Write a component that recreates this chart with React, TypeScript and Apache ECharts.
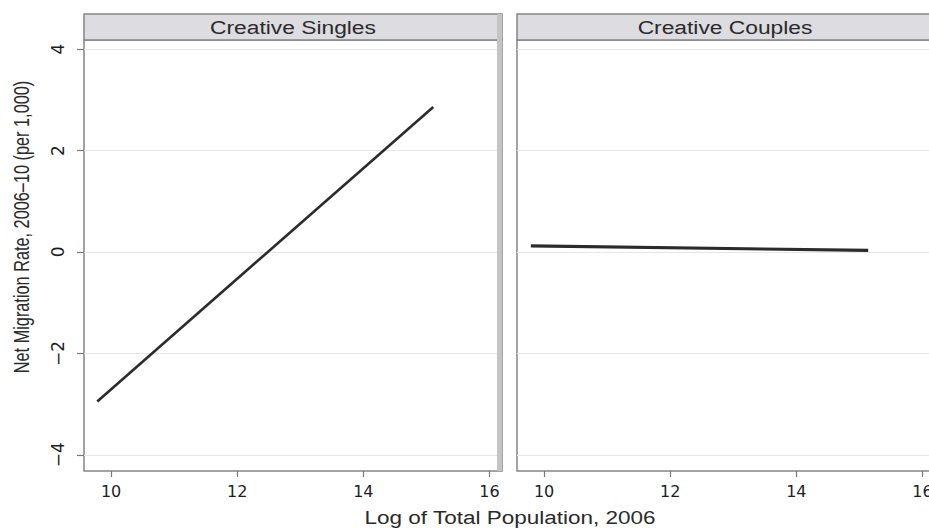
import React, { useEffect, useRef } from "react";
import * as echarts from "echarts";

const panelTitles = ["Creative Singles", "Creative Couples"];
const xTicks = [10, 12, 14, 16];
const yTicks = [-4, -2, 0, 2, 4];
const singlesLine = [
  [9.78, -2.95],
  [15.11, 2.86],
];
const couplesLine = [
  [9.79, 0.12],
  [15.14, 0.03],
];
const xTitle = "Log of Total Population, 2006";
const yTitle = "Net Migration Rate, 2006\u201310 (per 1,000)";

const X_MIN = 9.57;
const X_MAX = 16.2;
const Y_MIN = -4.32;
const Y_MAX = 4.18;

const fmtY = (v: number) => (v < 0 ? "\u2212" + Math.abs(v) : String(v));

export default function App() {
  const ref = useRef<HTMLDivElement>(null);
  useEffect(() => {
    if (!ref.current) return;
    const chart = echarts.init(ref.current, null, { renderer: "svg" });
    const gridLeft = [84, 517];
    const gridW = 418;
    const top = 40;
    const height = 431;

    const mkX = (i: number) => ({
      gridIndex: i,
      type: "value",
      min: X_MIN,
      max: X_MAX,
      axisLine: { show: false, onZero: false },
      axisTick: {
        show: true,
        length: 6,
        customValues: xTicks,
        lineStyle: { color: "#777", width: 1.2 },
      },
      axisLabel: {
        customValues: xTicks,
        fontSize: 16,
        fontFamily: "DejaVu Sans",
        color: "#1e1e1e",
        margin: 12,
      },
      splitLine: { show: false },
    });
    const mkY = (i: number) => ({
      gridIndex: i,
      type: "value",
      min: Y_MIN,
      max: Y_MAX,
      axisLine: { show: false, onZero: false },
      axisTick: {
        show: i === 0,
        length: 7,
        customValues: yTicks,
        lineStyle: { color: "#777", width: 1.2 },
      },
      axisLabel: {
        show: i === 0,
        customValues: yTicks,
        rotate: 90,
        fontSize: 17,
        fontFamily: "DejaVu Sans",
        color: "#1e1e1e",
        margin: 18,
        formatter: fmtY,
      },
      splitLine: { show: false },
    });
    const mkGridSeries = (i: number) => ({
      type: "line",
      xAxisIndex: i,
      yAxisIndex: i,
      data: [],
      z: 1,
      markLine: {
        silent: true,
        symbol: "none",
        label: { show: false },
        lineStyle: { color: "#e6e6e6", type: "solid", width: 1 },
        data: yTicks.map((v) => ({ yAxis: v })),
      },
    });
    const mkSeries = (i: number, data: number[][], w: number) => ({
      type: "line",
      xAxisIndex: i,
      yAxisIndex: i,
      data,
      showSymbol: false,
      symbol: "none",
      lineStyle: { color: "#2b2b2b", width: w },
      z: 5,
    });

    const headerGraphics: any[] = [];
    gridLeft.forEach((l, i) => {
      headerGraphics.push({
        type: "rect",
        shape: { x: l, y: 14, width: gridW, height: 26 },
        style: { fill: "#dcdce1", stroke: "#858585", lineWidth: 1.5 },
        z: 10,
      });
      headerGraphics.push({
        type: "text",
        x: l + gridW / 2 - (i === 0 ? 0 : 1),
        y: 27,
        scaleX: 1.2,
        style: {
          text: panelTitles[i],
          fontSize: 19,
          fontFamily: "Liberation Sans",
          fill: "#2a2a2a",
          align: "center",
          verticalAlign: "middle",
          textAlign: "center",
          textVerticalAlign: "middle",
        },
        z: 11,
      });
    });

    chart.setOption({
      animation: false,
      backgroundColor: "#ffffff",
      grid: gridLeft.map((l) => ({
        left: l,
        top,
        width: gridW,
        height,
        show: true,
        borderColor: "#858585",
        borderWidth: 1.5,
        backgroundColor: "#ffffff",
        containLabel: false,
      })),
      xAxis: [mkX(0), mkX(1)],
      yAxis: [mkY(0), mkY(1)],
      series: [
        mkGridSeries(0),
        mkGridSeries(1),
        mkSeries(0, singlesLine, 2.6),
        mkSeries(1, couplesLine, 3.2),
      ],
      graphic: [
        ...headerGraphics,
        {
          type: "rect",
          shape: { x: 497, y: 14, width: 5, height: 457 },
          style: { fill: "#c4c4c4" },
          z: 12,
        },
        {
          type: "text",
          x: 510,
          y: 518,
          scaleX: 1.25,
          style: {
            text: xTitle,
            fontSize: 18,
            fontFamily: "Liberation Sans",
            fill: "#2a2a2a",
            align: "center",
            verticalAlign: "middle",
            textAlign: "center",
            textVerticalAlign: "middle",
          },
        },
        {
          type: "text",
          x: 22,
          y: 227,
          rotation: Math.PI / 2,
          scaleY: 1.3,
          style: {
            text: yTitle,
            fontSize: 16.3,
            fontFamily: "Liberation Sans",
            fill: "#2a2a2a",
            align: "center",
            verticalAlign: "middle",
            textAlign: "center",
            textVerticalAlign: "middle",
          },
        },
      ],
    });
    return () => chart.dispose();
  }, []);
  return (
    <div
      style={{ position: "absolute", left: 0, top: 0, width: 929, height: 529, overflow: "hidden" }}
    >
      <div ref={ref} style={{ width: 950, height: 529 }} />
    </div>
  );
}
